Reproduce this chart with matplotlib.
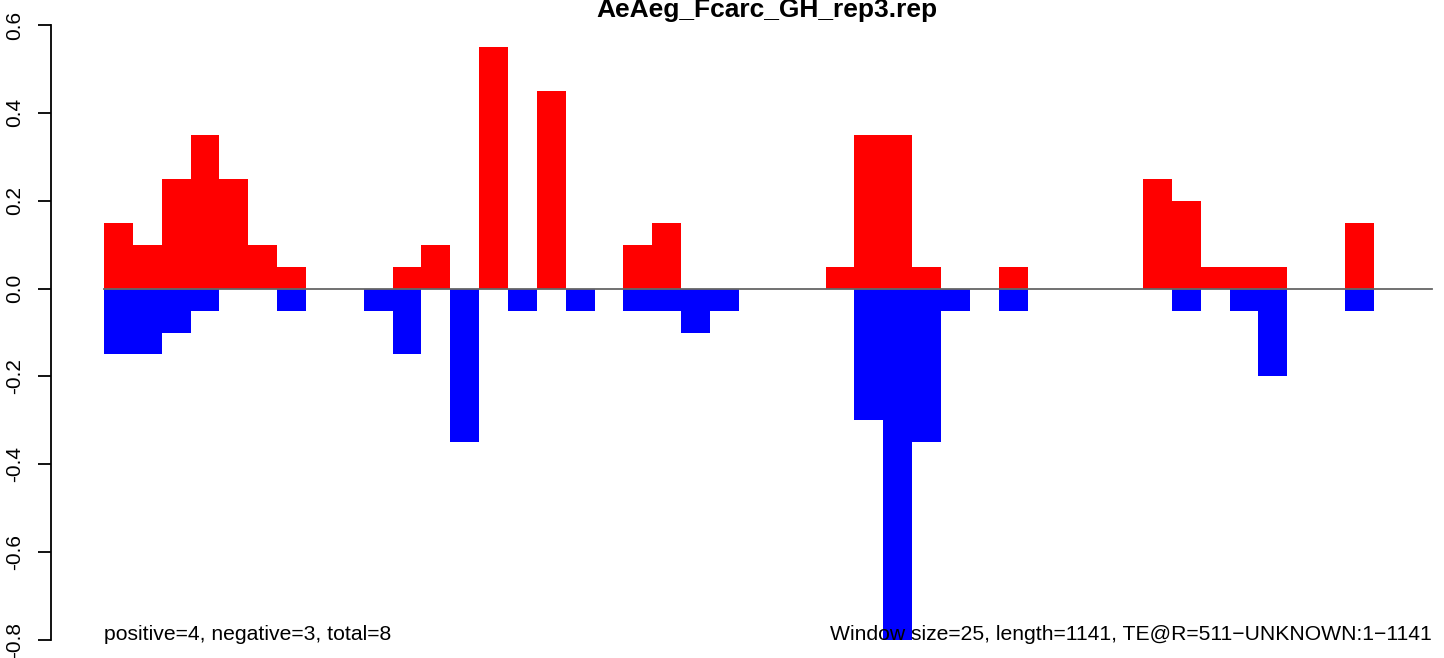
import matplotlib
matplotlib.use("Agg")
import matplotlib.pyplot as plt
import numpy as np

# fenetres de 25 pb le long de l'element (46 fenetres)
titre = "AeAeg_Fcarc_GH_rep3.rep"
texte_gauche = "positive=4, negative=3, total=8"
texte_droite = "Window size=25, length=1141, TE@R=511\u2212UNKNOWN:1\u22121141"

positifs = [0.15, 0.10, 0.25, 0.35, 0.25, 0.10, 0.05, 0, 0, 0,
            0.05, 0.10, 0, 0.55, 0, 0.45, 0, 0, 0.10, 0.15,
            0, 0, 0, 0, 0, 0.05, 0.35, 0.35, 0.05, 0,
            0, 0.05, 0, 0, 0, 0, 0.25, 0.20, 0.05, 0.05,
            0.05, 0, 0, 0.15, 0, 0]
negatifs = [-0.15, -0.15, -0.10, -0.05, 0, 0, -0.05, 0, 0, -0.05,
            -0.15, 0, -0.35, 0, -0.05, 0, -0.05, 0, -0.05, -0.05,
            -0.10, -0.05, 0, 0, 0, 0, -0.30, -0.80, -0.35, -0.05,
            0, -0.05, 0, 0, 0, 0, 0, -0.05, 0, -0.05,
            -0.20, 0, 0, -0.05, 0, 0]
graduations = [-0.8, -0.6, -0.4, -0.2, 0.0, 0.2, 0.4, 0.6]

plt.rcParams['font.family'] = ['Liberation Sans', 'DejaVu Sans']

fig = plt.figure(figsize=(14.44, 6.58), dpi=100)
ax = fig.add_axes([51/1444, 0, (1444-51)/1444, 1])

n = len(positifs)
x = np.arange(n)
ax.bar(x, positifs, width=1, align='edge', color='#FF0000', linewidth=0)
ax.bar(x, negatifs, width=1, align='edge', color='#0000FF', linewidth=0)
ax.plot([0, n], [0, 0], color='#666666', linewidth=1.3, zorder=3)

ax.set_xlim(-1.836, 46.43)
ax.set_ylim(-0.841, 0.657)

for s in ['top', 'right', 'bottom']:
    ax.spines[s].set_visible(False)
ax.spines['left'].set_bounds(-0.8, 0.6)
ax.spines['left'].set_linewidth(1.3)
ax.set_xticks([])
ax.set_yticks(graduations)
ax.set_yticklabels(["%.1f" % v for v in graduations], rotation=90, va='center')
ax.tick_params(axis='y', length=9.5, width=1.3, labelsize=15, pad=10)
ax.patch.set_alpha(0)

ax.text(0, -0.8, texte_gauche, fontsize=15.2, ha='left', va='baseline')
ax.text(n, -0.8, texte_droite, fontsize=15.2, ha='right', va='baseline')

fig.text(767/1444, 641/658, titre, fontsize=19, fontweight='bold', ha='center', va='baseline')

fig.savefig("out.png", dpi=100)
